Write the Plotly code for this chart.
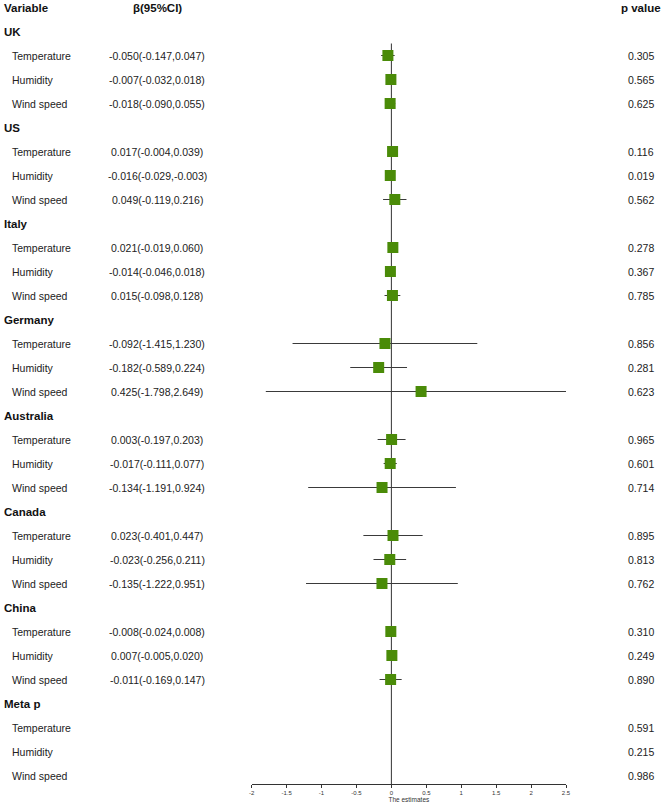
import plotly.graph_objects as go

groups = ["UK", "US", "Italy", "Germany", "Australia", "Canada", "China", "Meta p"]
variables = ["Temperature", "Humidity", "Wind speed"]

est = [
    [-0.050, -0.007, -0.018],
    [0.017, -0.016, 0.049],
    [0.021, -0.014, 0.015],
    [-0.092, -0.182, 0.425],
    [0.003, -0.017, -0.134],
    [0.023, -0.023, -0.135],
    [-0.008, 0.007, -0.011],
    None,
]
lower = [
    [-0.147, -0.032, -0.090],
    [-0.004, -0.029, -0.119],
    [-0.019, -0.046, -0.098],
    [-1.415, -0.589, -1.798],
    [-0.197, -0.111, -1.191],
    [-0.401, -0.256, -1.222],
    [-0.024, -0.005, -0.169],
    None,
]
upper = [
    [0.047, 0.018, 0.055],
    [0.039, -0.003, 0.216],
    [0.060, 0.018, 0.128],
    [1.230, 0.224, 2.649],
    [0.203, 0.077, 0.924],
    [0.447, 0.211, 0.951],
    [0.008, 0.020, 0.147],
    None,
]
pvals = [
    ["0.305", "0.565", "0.625"],
    ["0.116", "0.019", "0.562"],
    ["0.278", "0.367", "0.785"],
    ["0.856", "0.281", "0.623"],
    ["0.965", "0.601", "0.714"],
    ["0.895", "0.813", "0.762"],
    ["0.310", "0.249", "0.890"],
    ["0.591", "0.215", "0.986"],
]
tick_vals = [-2, -1.5, -1, -0.5, 0, 0.5, 1, 1.5, 2, 2.5]
tick_text = ["-2", "-1.5", "-1", "-0.5", "0", "0.5", "1", "1.5", "2", "2.5"]

W, H = 664, 805
FONT = "Liberation Sans, Arial, sans-serif"

xs, ys, em, ep = [], [], [], []
annotations = []

def px(x):
    return x / W

# headers
annotations.append(dict(x=px(2), y=0, xref="paper", yref="y", text="<b>Variable</b>",
                        xanchor="left", yanchor="middle", showarrow=False,
                        font=dict(size=11.5, color="#111", family=FONT)))
annotations.append(dict(x=px(157), y=0, xref="paper", yref="y", text="<b>β(95%CI)</b>",
                        xanchor="center", yanchor="middle", showarrow=False,
                        font=dict(size=11.5, color="#111", family=FONT)))
annotations.append(dict(x=px(663), y=0, xref="paper", yref="y", text="<b>p value</b>",
                        xanchor="right", yanchor="middle", showarrow=False,
                        font=dict(size=11.5, color="#111", family=FONT)))

for g, name in enumerate(groups):
    gi = 1 + 4 * g
    annotations.append(dict(x=px(2), y=gi, xref="paper", yref="y", text="<b>%s</b>" % name,
                            xanchor="left", yanchor="middle", showarrow=False,
                            font=dict(size=11.5, color="#111", family=FONT)))
    for k, var in enumerate(variables):
        ri = gi + 1 + k
        annotations.append(dict(x=px(10), y=ri, xref="paper", yref="y", text=var,
                                xanchor="left", yanchor="middle", showarrow=False,
                                font=dict(size=10.5, color="#222", family=FONT)))
        annotations.append(dict(x=px(641), y=ri, xref="paper", yref="y", text=pvals[g][k],
                                xanchor="center", yanchor="middle", showarrow=False,
                                font=dict(size=10.5, color="#222", family=FONT)))
        if est[g] is not None:
            e, lo, hi = est[g][k], lower[g][k], upper[g][k]
            annotations.append(dict(x=px(157), y=ri, xref="paper", yref="y",
                                    text="%.3f(%.3f,%.3f)" % (e, lo, hi),
                                    xanchor="center", yanchor="middle", showarrow=False,
                                    font=dict(size=10.5, color="#222", family=FONT)))
            xs.append(e)
            ys.append(ri)
            ep.append(hi - e)
            em.append(e - lo)

row_px = 24.0
first_px = 7.5
axis_px = 784
y_top = -first_px / row_px
y_bot = (axis_px - first_px) / row_px

fig = go.Figure()
fig.add_trace(go.Scatter(
    x=xs, y=ys, mode="markers",
    marker=dict(symbol="square", size=11, color="#4A8B08", line=dict(width=0)),
    error_x=dict(type="data", symmetric=False, array=ep, arrayminus=em,
                 color="#3a3a3a", thickness=1, width=0),
    hoverinfo="skip", showlegend=False,
))

fig.add_shape(type="line", xref="x", yref="y", x0=0, x1=0, y0=1.5, y1=y_bot,
              line=dict(color="#333", width=1), layer="below")

fig.update_layout(
    width=W, height=H,
    margin=dict(l=0, r=0, t=0, b=H - axis_px),
    paper_bgcolor="white", plot_bgcolor="white",
    font=dict(family=FONT),
    annotations=annotations,
    xaxis=dict(domain=[251.7 / W, 566.0 / W], range=[-2, 2.5],
               tickvals=tick_vals, ticktext=tick_text,
               showgrid=False, zeroline=False, showline=True,
               linecolor="#333", linewidth=1,
               ticks="outside", ticklen=3, tickcolor="#333", tickwidth=1,
               tickfont=dict(size=6, color="#333", family=FONT),
               title=dict(text="The estimates", font=dict(size=6.5, color="#333", family=FONT),
                          standoff=1),
               automargin=False, fixedrange=True),
    yaxis=dict(range=[y_bot, y_top], visible=False, showgrid=False, zeroline=False,
               fixedrange=True),
)

fig.write_html("out.html", config={"displayModeBar": False},
               post_script="document.body.style.margin='0';document.body.style.overflow='hidden';")
